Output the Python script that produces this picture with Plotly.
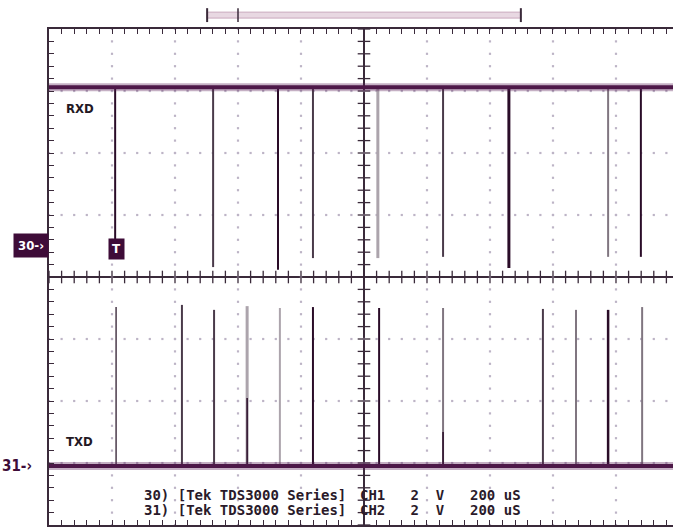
import plotly.graph_objects as go

# ---- data (time in microseconds from screen centre, volts on screen, 200 uS/div, 2 V/div) ----
rxd_high = 6.12
rxd_pulse_t = [-790, -479, -273, -162, 44, 251, 460, 775, 879]
rxd_pulse_low = [1.13, 0.32, 0.23, 0.61, 0.61, 0.65, 0.29, 0.65, 0.65]
rxd_pulse_shade = ["k", "d", "k", "d", "l", "d", "k", "g", "k"]
rxd_pulse_w = [2, 2, 2, 2, 3, 2, 3, 2, 2]

txd_base = -6.10
txd_pulse_t = [-787, -578, -476, -371, -267, -162, 48, 251, 568, 673, 775, 883]
txd_pulse_top = [-0.97, -0.90, -1.06, -0.94, -1.00, -0.97, -1.00, -1.00, -1.03, -1.06, -1.06, -0.97]
txd_pulse_shade = ["d", "d", "d", "l", "l", "k", "k", "g", "d", "g", "k", "g"]
txd_pulse_w = [1.5, 2, 2, 3, 2, 2, 2, 2, 2, 2, 2.5, 2]
txd_dark_part_t = [-371, 251]
txd_dark_part_top = [-3.9, -5.0]

t_range = [-1000, 981]
v_range = [-8, 8]
div_t = 200
div_v = 2

shade_col = {"k": "#2a0c28", "d": "#4a3a4a", "g": "#807680", "l": "#aca4ac"}
trace_col = "#4d1848"

fig = go.Figure()

# graticule dots
gx, gy = [], []
major_t = [t for t in range(-800, 1000, div_t) if t != 0]
major_v = [v for v in range(-6, 8, div_v) if v != 0]
for t in major_t:
    for k in range(0, 41):
        gx.append(t); gy.append(-8 + 0.4 * k)
for v in major_v:
    for k in range(0, 50):
        gx.append(-1000 + 40 * k); gy.append(v)
fig.add_trace(go.Scatter(x=gx, y=gy, mode="markers",
                         marker=dict(symbol="square", size=2.2, color="#bdb4c6"),
                         hoverinfo="skip"))

# centre crosshair ticks
cx = [-1000 + 40 * k for k in range(50)]
fig.add_trace(go.Scatter(x=cx, y=[0] * len(cx), mode="markers",
                         marker=dict(symbol="line-ns", size=9, line=dict(width=1.3, color="#3a2a3a")),
                         hoverinfo="skip"))
cy = [-8 + 0.4 * k for k in range(41)]
fig.add_trace(go.Scatter(x=[0] * len(cy), y=cy, mode="markers",
                         marker=dict(symbol="line-ew", size=9, line=dict(width=1.3, color="#3a2a3a")),
                         hoverinfo="skip"))

# pulses
for t, lo, s, w in zip(rxd_pulse_t, rxd_pulse_low, rxd_pulse_shade, rxd_pulse_w):
    fig.add_trace(go.Scatter(x=[t, t], y=[rxd_high, lo], mode="lines",
                             line=dict(color=shade_col[s], width=w), hoverinfo="skip"))
for t, hi, s, w in zip(txd_pulse_t, txd_pulse_top, txd_pulse_shade, txd_pulse_w):
    fig.add_trace(go.Scatter(x=[t, t], y=[txd_base, hi], mode="lines",
                             line=dict(color=shade_col[s], width=w), hoverinfo="skip"))
for t, hi in zip(txd_dark_part_t, txd_dark_part_top):
    fig.add_trace(go.Scatter(x=[t, t], y=[txd_base, hi], mode="lines",
                             line=dict(color=shade_col["k"], width=1.5), hoverinfo="skip"))

# baselines (thick, fuzzy look)
for level in (rxd_high, txd_base):
    fig.add_trace(go.Scatter(x=t_range, y=[level, level], mode="lines",
                             line=dict(color="rgba(90,30,85,0.35)", width=8), hoverinfo="skip"))
    fig.add_trace(go.Scatter(x=t_range, y=[level, level], mode="lines",
                             line=dict(color=trace_col, width=4), hoverinfo="skip"))

lab_font = dict(family="DejaVu Sans Condensed, Liberation Sans Narrow, DejaVu Sans, sans-serif",
                size=13, color="#231823")
mono_font = dict(family="DejaVu Sans Mono, monospace", size=14, color="#2a1a2a")

ann = [
    dict(x=-902, y=5.45, text="<b>RXD</b>", font=lab_font),
    dict(x=-902, y=-5.32, text="<b>TXD</b>", font=lab_font),
    dict(x=-787, y=0.90, text="<b>T</b>", font=dict(family="DejaVu Sans", size=12, color="white"),
         bgcolor="#3e0c38", borderpad=3),
    dict(x=-705, y=-7.03, text="<b>30) [Tek TDS3000 Series]</b>", font=mono_font, xanchor="left"),
    dict(x=-705, y=-7.52, text="<b>31) [Tek TDS3000 Series]</b>", font=mono_font, xanchor="left"),
    dict(x=-19, y=-7.03, text="<b>CH1   2  V</b>", font=mono_font, xanchor="left"),
    dict(x=-19, y=-7.52, text="<b>CH2   2  V</b>", font=mono_font, xanchor="left"),
    dict(x=330, y=-7.03, text="<b>200 uS</b>", font=mono_font, xanchor="left"),
    dict(x=330, y=-7.52, text="<b>200 uS</b>", font=mono_font, xanchor="left"),
]
for a in ann:
    a.setdefault("xanchor", "center")
    fig.add_annotation(xref="x", yref="y", showarrow=False, **a)

# channel ground markers
fig.add_annotation(xref="paper", yref="y", x=-0.0577, y=1.03, xanchor="left", showarrow=False,
                   text="<b>30-›</b>", font=dict(family="DejaVu Sans Condensed, DejaVu Sans", size=13, color="white"),
                   bgcolor="#3e0c38", borderpad=4)
fig.add_annotation(xref="paper", yref="y", x=-0.0785, y=-6.1, xanchor="left", showarrow=False,
                   text="<b>31-›</b>", font=dict(family="DejaVu Sans Condensed, DejaVu Sans", size=15, color="#3e0c38"))

# record-window bar at top
rec_t = [-498, 498]
trig_rec_t = -400
fig.add_shape(type="rect", xref="x", yref="paper", x0=rec_t[0], x1=rec_t[1], y0=1.022, y1=1.034,
              line=dict(color="#c8a8bc", width=1), fillcolor="#e8d8e2", layer="above")
fig.add_shape(type="line", xref="x", yref="paper", x0=rec_t[0], x1=rec_t[0], y0=1.014, y1=1.042,
              line=dict(color="#3a2a3a", width=2))
fig.add_shape(type="line", xref="x", yref="paper", x0=rec_t[1], x1=rec_t[1], y0=1.014, y1=1.042,
              line=dict(color="#3a2a3a", width=2))
fig.add_shape(type="line", xref="x", yref="paper", x0=trig_rec_t, x1=trig_rec_t, y0=1.014, y1=1.042,
              line=dict(color="#3a2a3a", width=1.5))

fig.update_xaxes(range=t_range, showgrid=False, zeroline=True, zerolinecolor="#3a2a3a", zerolinewidth=1.5,
                 showline=True, linecolor="#3a2a3a", linewidth=1.5, mirror="ticks",
                 ticks="inside", tick0=0, dtick=40, ticklen=5, tickcolor="#3a2a3a", tickwidth=1,
                 showticklabels=False)
fig.update_yaxes(range=v_range, showgrid=False, zeroline=True, zerolinecolor="#3a2a3a", zerolinewidth=1.5,
                 showline=True, linecolor="#3a2a3a", linewidth=1.5, mirror=False,
                 ticks="inside", tick0=0, dtick=0.4, ticklen=5, tickcolor="#3a2a3a", tickwidth=1,
                 showticklabels=False)

fig.update_layout(width=673, height=528, margin=dict(l=49, r=0, t=29, b=3, autoexpand=False),
                  paper_bgcolor="white", plot_bgcolor="white", showlegend=False, hovermode=False)

fig.write_html("out.html", config={"displayModeBar": False},
               post_script="document.body.style.margin='0';document.body.style.overflow='hidden';")
